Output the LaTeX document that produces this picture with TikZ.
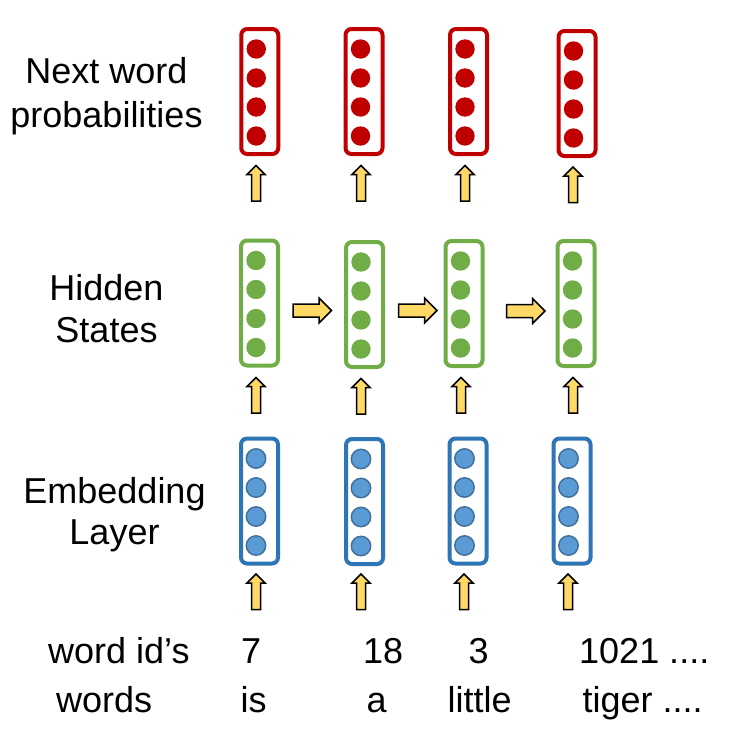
\documentclass[tikz,border=0pt]{standalone}
\usepackage{fontspec}
\setmainfont{Liberation Sans}
\usepackage{tikz}
\usepackage{xcolor}
\usetikzlibrary{shapes.arrows, positioning}

\definecolor{outred}{HTML}{C00000}
\definecolor{hidgreen}{HTML}{70AD47}
\definecolor{embblue}{HTML}{2E75B6}
\definecolor{embdot}{HTML}{5B9BD5}
\definecolor{embdotline}{HTML}{41719C}
\definecolor{arrowfill}{HTML}{FFD966}

\begin{document}
\begin{tikzpicture}[
    x=1pt, y=-1pt,
    font=\fontsize{36}{44}\selectfont,
    vec/.style={rectangle, rounded corners=6pt, line width=4pt, minimum width=37pt, minimum height=125pt, inner sep=0pt},
    vecdots/.style={path picture={
        \filldraw[#1] ([shift={(-3.5,-42.5)}]path picture bounding box.center) circle (9.7pt);
        \filldraw[#1] ([shift={(-3.5,-13.5)}]path picture bounding box.center) circle (9.7pt);
        \filldraw[#1] ([shift={(-3.5,15.5)}]path picture bounding box.center) circle (9.7pt);
        \filldraw[#1] ([shift={(-3.5,44.5)}]path picture bounding box.center) circle (9.7pt);
    }},
    outvec/.style={vec, draw=outred, vecdots={fill=outred, draw=none}},
    hidvec/.style={vec, draw=hidgreen, vecdots={fill=hidgreen, draw=none}},
    embvec/.style={vec, draw=embblue, vecdots={fill=embdot, draw=embdotline, line width=1.5pt}},
    uparrow/.style={single arrow, draw=black, fill=arrowfill, line width=1.5pt, minimum height=35.5pt, inner sep=3.75pt, single arrow head extend=4.5pt, shape border rotate=90},
    rarrow/.style={single arrow, draw=black, fill=arrowfill, line width=1.5pt, minimum height=38.5pt, inner sep=5.75pt, single arrow head extend=6pt},
    rowtext/.style={anchor=north, inner sep=0pt, align=center},
    celltext/.style={anchor=base west, inner sep=0pt}
]
\useasboundingbox (0,0) rectangle (743,731);

% Row labels
\node[rowtext] (problabel) at (106.5,57.5) {Next word\\probabilities};
\node[rowtext, font=\fontsize{36}{42}\selectfont] (hidlabel) at (106.5,274) {Hidden\\States};
\node[rowtext, font=\fontsize{36}{41}\selectfont] (emblabel) at (114.5,477) {Embedding\\Layer};

% Next word probabilities
\node[outvec] (o1) at (259.75,91.5) {};
\node[outvec] (o2) at (364,91.5) {};
\node[outvec] (o3) at (468.5,91.5) {};
\node[outvec] (o4) at (577,93.5) {};

% Hidden states
\node[hidvec] (h1) at (259.5,303) {};
\node[hidvec] (h2) at (364.5,304.5) {};
\node[hidvec] (h3) at (464,303.5) {};
\node[hidvec] (h4) at (576,303.5) {};

% Embedding layer
\node[embvec] (e1) at (259.5,501) {};
\node[embvec] (e2) at (364.5,501.5) {};
\node[embvec] (e3) at (468,501) {};
\node[embvec] (e4) at (572,501) {};

% Arrows into the outputs
\node[uparrow] (ho1) at (256,185.5) {};
\node[uparrow] (ho2) at (361,185.5) {};
\node[uparrow] (ho3) at (465,185.5) {};
\node[uparrow] (ho4) at (573,187) {};

% Recurrent arrows
\node[rarrow] (hh12) at (309,310.5) {};
\node[rarrow] (hh23) at (414.5,310.5) {};
\node[rarrow] (hh34) at (522.5,311) {};

% Arrows into the hidden states
\node[uparrow] (eh1) at (256,397.5) {};
\node[uparrow] (eh2) at (361,398.5) {};
\node[uparrow] (eh3) at (461,397.5) {};
\node[uparrow] (eh4) at (573,397.5) {};

% Arrows into the embeddings
\node[uparrow] (we1) at (256,594) {};
\node[uparrow] (we2) at (361,594) {};
\node[uparrow] (we3) at (464,594) {};
\node[uparrow] (we4) at (568,594) {};

% Word ids and words
\node[celltext] (idlabel) at (48,663) {word id’s};
\node[celltext] (id1) at (241,663) {7};
\node[celltext] (id2) at (363,663) {18};
\node[celltext] (id3) at (468.5,663) {3};
\node[celltext] (id4) at (579,663) {1021 ....};

\node[celltext] (wlabel) at (56,712) {words};
\node[celltext] (w1) at (240.5,712) {is};
\node[celltext] (w2) at (366.5,712) {a};
\node[celltext] (w3) at (447.5,712) {little};
\node[celltext] (w4) at (582.5,712) {tiger ....};

\end{tikzpicture}
\end{document}
